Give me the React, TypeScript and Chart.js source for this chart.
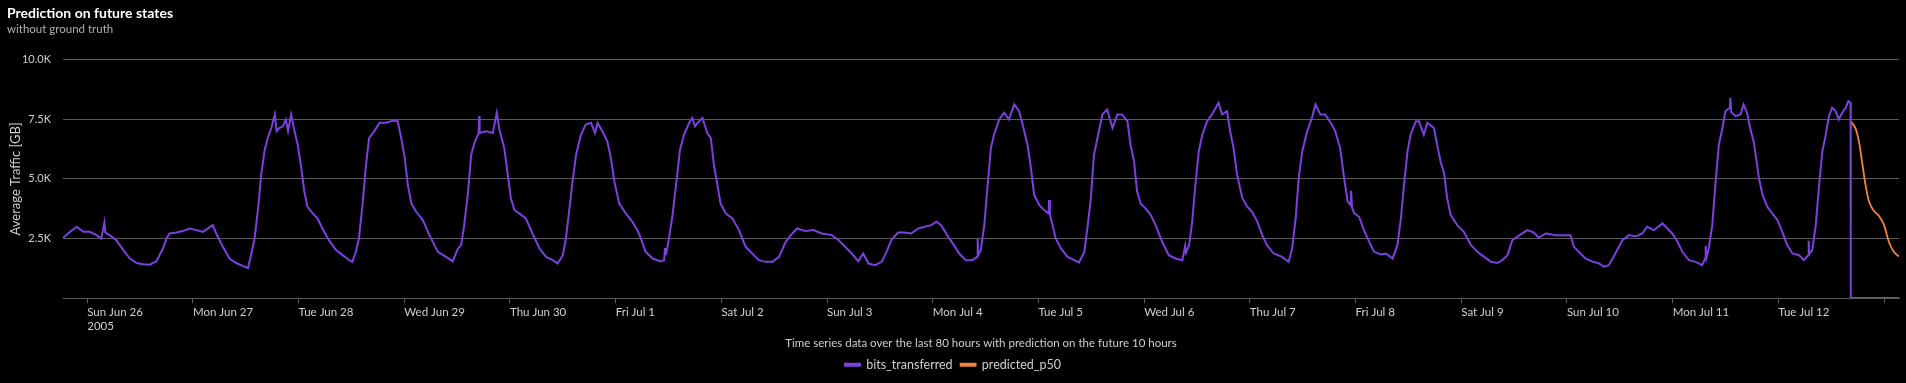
import React, { useEffect, useRef } from 'react';
import { Chart, registerables } from 'chart.js';

Chart.register(...registerables);

// Hours relative to Sun Jun 26 2005 00:00
const TICK_HOURS = [0, 24, 48, 72, 96, 120, 144, 168, 192, 216, 240, 264, 288, 312, 336, 360, 384, 408];
const TICK_LABELS: (string | string[])[] = [
  ['Sun Jun 26', '2005'], 'Mon Jun 27', 'Tue Jun 28', 'Wed Jun 29', 'Thu Jun 30', 'Fri Jul 1',
  'Sat Jul 2', 'Sun Jul 3', 'Mon Jul 4', 'Tue Jul 5', 'Wed Jul 6', 'Thu Jul 7', 'Fri Jul 8',
  'Sat Jul 9', 'Sun Jul 10', 'Mon Jul 11', 'Tue Jul 12', '',
];
const Y_TICKS = [0, 2500, 5000, 7500, 10000];
const X_MIN = -5.5;
const X_MAX = 411.4;

const trafficHours = [
  -5.5, -3.9, -2.4, -0.9, 0.6, 2.1, 3.2, 3.9, 4.1, 5.1, 6.6, 8.2, 9.7, 11.2, 12.7, 14.2, 15.7, 17.2, 18.0, 18.7,
  20.2, 21.7, 23.2, 24.8, 26.3, 28.5, 29.3, 30.8, 32.3, 33.8, 35.3, 36.5, 37.2, 38.0, 38.8, 39.5, 40.3, 41.0, 41.8, 42.6,
  43.0, 43.6, 44.4, 45.1, 45.6, 46.3, 47.0, 47.8, 48.5, 49.3, 50.0, 51.2, 52.3, 53.4, 54.9, 56.5, 58.0, 59.5, 60.2, 61.0,
  61.7, 62.5, 63.3, 64.0, 65.2, 66.4, 67.9, 69.4, 70.5, 71.3, 72.1, 72.8, 73.6, 74.7, 76.2, 77.7, 79.6, 81.5, 83.0, 84.1,
  84.9, 85.6, 86.4, 87.2, 87.9, 88.9, 89.0, 89.1, 90.6, 92.1, 93.0, 93.6, 94.7, 95.5, 96.2, 97.0, 98.1, 99.6, 101.1, 102.7,
  104.2, 105.7, 106.8, 108.0, 108.7, 109.5, 110.2, 111.0, 112.1, 113.2, 114.4, 115.3, 115.9, 117.0, 118.1, 118.9, 119.7, 120.8, 122.3, 123.8,
  125.3, 126.8, 128.4, 130.2, 131.0, 131.2, 131.4, 132.1, 132.9, 133.8, 134.6, 135.5, 136.7, 137.4, 138.0, 138.6, 139.7, 140.8, 141.6, 142.3,
  143.1, 143.8, 145.0, 146.5, 148.0, 149.5, 151.0, 152.5, 154.0, 155.6, 157.1, 158.6, 160.1, 161.2, 163.1, 164.9, 166.8, 169.1, 170.6, 172.1,
  173.6, 175.1, 176.2, 177.4, 178.9, 180.4, 181.5, 182.6, 184.1, 185.6, 187.1, 188.7, 190.2, 191.7, 192.8, 193.9, 195.4, 196.8, 198.0, 199.5,
  201.0, 202.1, 202.2, 202.3, 202.9, 203.7, 204.4, 205.2, 205.9, 207.1, 208.2, 209.3, 210.5, 211.6, 212.4, 213.5, 214.3, 215.0, 216.2, 217.3,
  218.3, 218.4, 218.6, 219.2, 219.9, 221.1, 222.6, 224.1, 225.2, 226.4, 227.1, 227.9, 228.6, 229.4, 230.5, 231.6, 232.8, 233.9, 235.0, 236.2,
  236.9, 237.7, 238.4, 239.2, 240.3, 241.5, 242.6, 244.1, 245.6, 247.1, 248.7, 249.3, 249.5, 250.2, 250.9, 251.7, 252.4, 253.2, 254.3, 255.4,
  256.9, 257.7, 258.8, 259.6, 260.3, 261.1, 262.3, 263.4, 264.5, 265.7, 266.8, 267.9, 269.4, 271.3, 272.8, 273.6, 274.4, 275.1, 275.9, 277.0,
  278.1, 278.9, 280.0, 281.1, 282.6, 283.4, 284.5, 285.3, 286.2, 286.9, 287.0, 287.2, 287.7, 288.8, 289.9, 291.1, 292.2, 293.7, 294.9, 296.4,
  297.5, 298.3, 299.0, 299.8, 300.5, 301.7, 302.4, 303.5, 304.3, 305.8, 306.6, 307.3, 308.1, 308.8, 309.6, 311.1, 312.6, 314.2, 315.7, 317.2,
  318.7, 320.2, 321.3, 322.5, 323.6, 325.5, 327.0, 328.5, 329.6, 331.2, 333.4, 335.3, 336.8, 337.6, 338.7, 340.2, 341.7, 343.3, 344.4, 345.5,
  347.0, 348.6, 350.1, 351.6, 353.1, 354.2, 355.8, 357.7, 358.8, 359.9, 361.1, 362.2, 363.7, 365.2, 366.7, 367.4, 367.5, 367.7, 368.2, 369.0,
  369.7, 370.5, 371.3, 372.0, 373.0, 373.1, 373.3, 374.3, 375.4, 376.1, 376.9, 377.6, 378.4, 379.6, 380.4, 381.5, 382.6, 383.8, 384.9, 386.0,
  387.2, 388.7, 389.8, 390.8, 390.9, 391.0, 391.7, 392.5, 393.2, 394.0, 394.7, 395.5, 396.2, 397.0, 397.7, 398.5, 399.3, 399.9, 400.4, 400.45,
  411.4,
];

const trafficValues = [
  2530, 2780, 2990, 2780, 2780, 2640, 2500, 3170, 2750, 2640, 2430, 2010, 1660, 1470, 1420, 1400, 1540, 2080, 2500, 2710,
  2750, 2810, 2920, 2850, 2780, 3060, 2710, 2150, 1660, 1470, 1350, 1260, 1800, 2500, 3760, 5170, 6220, 6710, 7130, 7700,
  7000, 7130, 7200, 7490, 7000, 7700, 7060, 6430, 5590, 4470, 3830, 3550, 3340, 2920, 2430, 2010, 1800, 1590, 1520, 1940,
  2500, 3900, 5590, 6710, 7000, 7350, 7350, 7440, 7420, 6710, 5870, 4750, 3970, 3620, 3270, 2640, 1940, 1730, 1540, 2050,
  2220, 3060, 4330, 6010, 6500, 6920, 7630, 6920, 6990, 6920, 7770, 7060, 6290, 5170, 4190, 3690, 3550, 3340, 2710, 2080,
  1730, 1590, 1450, 1800, 2500, 3760, 4890, 6010, 6850, 7280, 7350, 6920, 7350, 6990, 6570, 5870, 4890, 3970, 3550, 3200,
  2710, 1940, 1660, 1540, 1600, 2100, 1800, 2500, 3480, 4890, 6220, 6850, 7350, 7560, 7200, 7350, 7560, 6920, 6710, 5590,
  4750, 3970, 3550, 3340, 2850, 2150, 1870, 1590, 1520, 1520, 1730, 2360, 2710, 2920, 2810, 2850, 2710, 2640, 2430, 2150,
  1870, 1540, 1870, 1450, 1380, 1520, 1940, 2430, 2750, 2750, 2710, 2920, 2990, 3060, 3200, 3060, 2600, 2220, 1870, 1590,
  1590, 1730, 2500, 1800, 2010, 3060, 4610, 6290, 6850, 7490, 7770, 7490, 8120, 7840, 7280, 6430, 5450, 4330, 3900, 3690,
  3550, 4110, 3500, 3060, 2500, 2080, 1730, 1590, 1490, 1940, 2920, 4190, 6010, 6710, 7700, 7910, 7130, 7700, 7700, 7420,
  6430, 5730, 4470, 3970, 3760, 3480, 3060, 2360, 1800, 1660, 1590, 2200, 1900, 2220, 3200, 4890, 6150, 6850, 7420, 7700,
  8190, 7700, 7840, 6920, 6290, 5170, 4190, 3830, 3620, 3200, 2640, 2220, 1870, 1730, 1520, 2080, 3340, 5030, 6150, 6990,
  7560, 8120, 7700, 7700, 7280, 6990, 6290, 5170, 4050, 3900, 4500, 3800, 3550, 3410, 2850, 2360, 1940, 1830, 1870, 1660,
  2220, 3340, 4750, 6150, 6850, 7420, 7420, 6850, 7350, 7130, 6360, 5730, 5240, 4190, 3480, 3060, 2780, 2220, 1940, 1730,
  1520, 1470, 1590, 1800, 2430, 2670, 2850, 2750, 2530, 2710, 2640, 2640, 2640, 2150, 1940, 1660, 1540, 1450, 1310, 1380,
  1870, 2430, 2640, 2580, 2710, 2990, 2850, 3130, 2920, 2710, 2360, 1940, 1590, 1520, 1380, 1660, 2200, 1700, 2080, 3060,
  4750, 6430, 7130, 7840, 7980, 8400, 7800, 7630, 7700, 8120, 7770, 7130, 6570, 5030, 4330, 3830, 3550, 3270, 2780, 2220,
  1870, 1800, 1590, 1800, 2400, 1850, 2010, 3060, 4610, 6150, 6780, 7630, 7980, 7840, 7490, 7770, 7980, 8260, 8190, 0,
  0,
];

const predHours = [400.5, 401.5, 402.3, 403.0, 403.8, 404.6, 405.7, 406.8, 408.0, 409.1, 410.2, 411.0, 411.4];
const predValues = [7400, 7130, 6570, 5730, 4750, 4050, 3650, 3460, 3060, 2360, 1940, 1800, 1750];

const PURPLE = '#7a40e0';
const ORANGE = '#f08341';
const GRID = '#5a5a5a';
const TEXT = '#cfcfcf';
const FONT = 'Lato, "Noto Sans", sans-serif';

export default function App() {
  const ref = useRef<HTMLCanvasElement | null>(null);

  useEffect(() => {
    document.body.style.margin = '0';
    document.body.style.background = '#000';
    const canvas = ref.current;
    if (!canvas) return;

    const traffic = trafficHours.map((h, i) => ({ x: h, y: trafficValues[i] }));
    const pred = predHours.map((h, i) => ({ x: h, y: predValues[i] }));

    const chart = new Chart(canvas, {
      type: 'line',
      data: {
        datasets: [
          {
            label: 'bits_transferred',
            data: traffic,
            borderColor: PURPLE,
            backgroundColor: PURPLE,
            borderWidth: 2,
            pointRadius: 0,
            tension: 0,
          },
          {
            label: 'predicted_p50',
            data: pred,
            borderColor: ORANGE,
            backgroundColor: ORANGE,
            borderWidth: 1.8,
            pointRadius: 0,
            tension: 0.3,
          },
        ],
      },
      options: {
        animation: false,
        responsive: true,
        maintainAspectRatio: false,
        layout: { padding: { left: 7, right: 7, top: 0, bottom: 2 } },
        plugins: {
          title: {
            display: true,
            text: 'Prediction on future states',
            align: 'start',
            color: '#ffffff',
            font: { family: FONT, size: 14, weight: 'bold' },
            padding: { top: 5, bottom: 1 },
          },
          subtitle: {
            display: true,
            text: 'without ground truth',
            align: 'start',
            color: '#b0b0b0',
            font: { family: FONT, size: 11.5 },
            padding: { top: 0, bottom: 23 },
          },
          legend: {
            position: 'bottom',
            labels: {
              color: TEXT,
              font: { family: FONT, size: 12.5 },
              boxWidth: 15,
              boxHeight: 2,
              padding: 8,
            },
          },
          tooltip: { enabled: false },
        },
        scales: {
          x: {
            type: 'linear',
            min: X_MIN,
            max: X_MAX,
            afterBuildTicks: (scale: any) => {
              scale.ticks = TICK_HOURS.map((v) => ({ value: v }));
            },
            ticks: {
              autoSkip: false,
              maxRotation: 0,
              align: 'start',
              color: TEXT,
              font: { family: FONT, size: 11.5 },
              padding: 2,
              callback: (_v: any, i: number) => TICK_LABELS[i],
            },
            grid: {
              drawOnChartArea: false,
              drawTicks: true,
              tickLength: 5,
              color: GRID,
            },
            border: { display: true, color: GRID },
            title: {
              display: true,
              text: 'Time series data over the last 80 hours with prediction on the future 10 hours',
              color: TEXT,
              font: { family: FONT, size: 11.5 },
              padding: { top: 2, bottom: 0 },
            },
          },
          y: {
            type: 'linear',
            min: 0,
            max: 10000,
            afterBuildTicks: (scale: any) => {
              scale.ticks = Y_TICKS.map((v) => ({ value: v }));
            },
            afterFit: (scale: any) => {
              scale.width = 56;
            },
            ticks: {
              color: TEXT,
              font: { family: FONT, size: 11 },
              padding: 12,
              callback: (v: any) => (v === 0 ? '' : (v / 1000).toFixed(1) + 'K'),
            },
            grid: { color: GRID, drawTicks: false },
            border: { display: false },
            title: {
              display: true,
              text: 'Average Traffic [GB]',
              color: TEXT,
              font: { family: FONT, size: 13 },
              padding: { top: 1, bottom: 0 },
            },
          },
        },
      } as any,
    });

    return () => chart.destroy();
  }, []);

  return (
    <div style={{ position: 'relative', width: '1906px', height: '383px', background: '#000' }}>
      <canvas ref={ref} />
    </div>
  );
}
